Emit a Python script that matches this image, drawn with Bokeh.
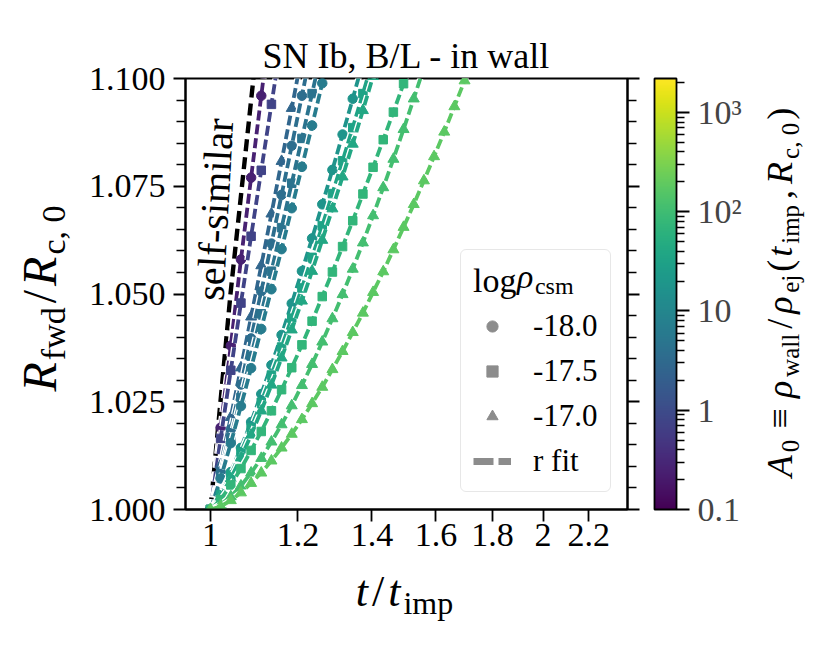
import math
from bokeh.plotting import figure
from bokeh.models import (Range1d, FixedTicker, LinearAxis, ColorBar, LogColorMapper, Label,
                          Legend, LegendItem, ColumnDataSource, NumeralTickFormatter,
                          CustomJSTickFormatter)
from bokeh.layouts import row, column
from bokeh.palettes import Viridis256
from bokeh.transform import transform
from bokeh.embed import file_html
from bokeh.resources import INLINE

SERIF = "Liberation Serif"

# ---------------- data ----------------
t_snap = [1.0000, 1.0214, 1.0433, 1.0656, 1.0884, 1.1117, 1.1355, 1.1598, 1.1846, 1.2100,
          1.2359, 1.2624, 1.2894, 1.3170, 1.3452, 1.3740, 1.4034, 1.4335, 1.4641, 1.4955,
          1.5276, 1.5603, 1.5937, 1.6278, 1.6626, 1.6982, 1.7346]

series_marker = ["circle", "square", "triangle", "circle", "square", "circle",
                 "circle", "square", "triangle", "square", "triangle", "triangle"]
series_A0 = [0.25, 0.75, 2.7, 3.7, 4.5, 6.6, 18, 33, 40, 73, 110, 180]

y_s1 = [1.000, 1.019, 1.038, 1.058, 1.077, 1.096, 1.115]
y_s2 = [1.000, 1.0165, 1.0323, 1.0479, 1.0634, 1.0787, 1.0940, 1.1090]
y_s3 = [1.000, 1.0103, 1.0214, 1.0329, 1.0447, 1.0566, 1.0686, 1.0808, 1.0931, 1.1055]
y_s4 = [1.000, 1.0088, 1.0186, 1.0290, 1.0397, 1.0506, 1.0617, 1.0730, 1.0844, 1.0960, 1.1077]
y_s5 = [1.000, 1.0078, 1.0167, 1.0260, 1.0356, 1.0454, 1.0553, 1.0654, 1.0757, 1.0861, 1.0965,
        1.1071]
y_s6 = [1.000, 1.0072, 1.0154, 1.0240, 1.0328, 1.0419, 1.0511, 1.0604, 1.0699, 1.0795, 1.0891,
        1.0989, 1.1087]
y_s7 = [1.000, 1.0037, 1.0087, 1.0143, 1.0203, 1.0268, 1.0335, 1.0405, 1.0478, 1.0553, 1.0629,
        1.0708, 1.0788, 1.0870, 1.0953, 1.1038]
y_s8 = [1.000, 1.0034, 1.0080, 1.0133, 1.0189, 1.0249, 1.0312, 1.0377, 1.0444, 1.0514, 1.0585,
        1.0658, 1.0733, 1.0809, 1.0886, 1.0965, 1.1045]
y_s9 = [1.000, 1.0030, 1.0072, 1.0120, 1.0173, 1.0229, 1.0289, 1.0352, 1.0417, 1.0484, 1.0553,
        1.0625, 1.0698, 1.0772, 1.0848, 1.0926, 1.1005]
y_s10 = [1.000, 1.0023, 1.0057, 1.0095, 1.0137, 1.0181, 1.0229, 1.0278, 1.0329, 1.0382, 1.0437,
         1.0494, 1.0551, 1.0610, 1.0670, 1.0732, 1.0794, 1.0858, 1.0922, 1.0988, 1.1054]
y_s11 = [1.000, 1.0011, 1.0030, 1.0055, 1.0085, 1.0119, 1.0157, 1.0197, 1.0241, 1.0288, 1.0337,
         1.0389, 1.0443, 1.0499, 1.0558, 1.0619, 1.0682, 1.0747, 1.0813, 1.0882, 1.0953, 1.1025]
y_s12 = [1.000, 1.0007, 1.0021, 1.0039, 1.0061, 1.0085, 1.0113, 1.0143, 1.0175, 1.0209, 1.0246,
         1.0284, 1.0325, 1.0367, 1.0411, 1.0456, 1.0504, 1.0552, 1.0603, 1.0655, 1.0708, 1.0763,
         1.0819, 1.0876, 1.0935, 1.0995, 1.1056]
series_y = [y_s1, y_s2, y_s3, y_s4, y_s5, y_s6, y_s7, y_s8, y_s9, y_s10, y_s11, y_s12]

selfsim_t = [1.0, 1.0426, 1.0937, 1.1050]
selfsim_y = [1.0, 1.050, 1.100, 1.111]

x_ticks = [1.0, 1.2, 1.4, 1.6, 1.8, 2.0, 2.2]
y_ticks = [1.000, 1.025, 1.050, 1.075, 1.100]
cbar_ticks = [0.1, 1, 10, 100, 1000]
legend_labels = ["-18.0", "-17.5", "-17.0"]
legend_markers = ["circle", "square", "triangle"]

# ---------------- geometry ----------------
TOP, BOT = 78, 58          # borders above / below the frame in the top row
FW, FH = 442, 431          # plot frame
H1 = TOP + FH + BOT        # height of the top row (567)
LW, PW, CW = 75, 680, 59   # widths: y-label strip, main plot, colour-bar label strip
XH = 640 - H1              # height of the x-label strip
BASE = 0.38                # compensation of bokeh's alphabetic baseline (fraction of size)

# ---------------- main figure ----------------
p = figure(width=PW, height=H1, x_axis_type="log",
           x_range=Range1d(0.9493, 2.385), y_range=Range1d(1.0, 1.1),
           output_backend="svg", toolbar_location=None,
           min_border_left=110, min_border_right=PW - 110 - FW,
           min_border_top=TOP, min_border_bottom=BOT)
p.background_fill_color = "white"
p.border_fill_color = "white"
p.outline_line_color = "black"
p.outline_line_width = 2
p.xgrid.visible = False
p.ygrid.visible = False
p.title.text = "SN Ib, B/L - in wall"
p.title.align = "center"
p.title.text_font = SERIF
p.title.text_font_size = "36px"
p.title.text_font_style = "normal"
p.title.text_color = "black"
p.title.standoff = 6

y_minor = [round(1.0 + 0.005 * i, 3) for i in range(21)]
y_minor = [v for v in y_minor if all(abs(v - m) > 1e-9 for m in y_ticks)]


def style_axis(ax):
    ax.axis_line_color = "black"
    ax.axis_line_width = 2
    ax.major_tick_in = 0
    ax.major_tick_out = 12
    ax.minor_tick_in = 0
    ax.minor_tick_out = 9
    ax.major_tick_line_width = 1.8
    ax.minor_tick_line_width = 1.6
    ax.major_tick_line_color = "black"
    ax.minor_tick_line_color = "black"
    ax.major_label_text_font = SERIF
    ax.major_label_text_font_size = "34px"
    ax.major_label_text_color = "black"


xa = p.xaxis[0]
style_axis(xa)
xa.ticker = FixedTicker(ticks=x_ticks)
xa.formatter = CustomJSTickFormatter(code="return String(Math.round(tick*10)/10);")
xa.major_label_standoff = 2

ya = p.yaxis[0]
style_axis(ya)
ya.ticker = FixedTicker(ticks=y_ticks, minor_ticks=y_minor)
ya.formatter = NumeralTickFormatter(format="0.000")
ya.major_label_standoff = 8

ry = LinearAxis(ticker=FixedTicker(ticks=y_ticks, minor_ticks=y_minor))
style_axis(ry)
ry.major_label_text_color = None
ry.major_label_text_font_size = "1px"
p.add_layout(ry, "right")

mapper = LogColorMapper(palette=Viridis256, low=0.1, high=2200)

# self-similar line
p.line(selfsim_t, selfsim_y, line_color="black", line_width=4.4, line_dash="12 6")

msize = {"circle": 9.5, "square": 8.5, "triangle": 11}
for mk, a0, ys in zip(series_marker, series_A0, series_y):
    n = len(ys)
    lsrc = ColumnDataSource(dict(xs=[t_snap[:n]], ys=[ys], A=[a0]))
    p.multi_line("xs", "ys", source=lsrc, line_color="white", line_width=6.5, line_dash="10 4")
    p.multi_line("xs", "ys", source=lsrc, line_color=transform("A", mapper),
                 line_width=3.8, line_dash="10 4")
    src = ColumnDataSource(dict(t=t_snap[:n], y=ys, A=[a0] * n))
    p.scatter("t", "y", source=src, marker=mk, size=msize[mk],
              color=transform("A", mapper))

# self-similar text (data coordinates, inside the frame)
p.add_layout(Label(x=0.999, y=1.0485, text="self-similar", angle=1.517,
                   text_font=SERIF, text_font_size="40px", text_color="black",
                   text_align="left", text_baseline="alphabetic"))

# ---------------- legend ----------------
GRAY = "#8c8c8c"
items = []
for lab, mk in zip(legend_labels, legend_markers):
    # proxy renderers for the legend, their point lies outside the visible range
    r = p.scatter(x=[0.5], y=[0.9], marker=mk, color=GRAY, size=11)
    items.append(LegendItem(label=lab, renderers=[r]))
rl = p.line(x=[0.5, 0.6], y=[0.9, 0.9], line_color=GRAY, line_width=7, line_dash="20 5")
items.append(LegendItem(label="r fit", renderers=[rl]))
legend = Legend(items=items, location=(275, 17), title="log",
                title_text_font=SERIF, title_text_font_size="34px",
                title_text_font_style="normal", title_text_color="black", title_standoff=8,
                label_text_font=SERIF, label_text_font_size="31px", label_text_color="black",
                glyph_width=38, glyph_height=28, label_standoff=22, spacing=9,
                padding=12, margin=0, border_line_color="#d0d0d0", border_line_width=1.5,
                background_fill_color="white", background_fill_alpha=0.0)
try:
    legend.border_radius = 6
except Exception:
    pass
p.add_layout(legend)

# ---------------- colour bar ----------------
cbar_minor = [d * m for d in (0.1, 1, 10, 100, 1000) for m in range(2, 10) if d * m <= 2200]
cb = ColorBar(color_mapper=mapper, location=(469, 0), orientation="vertical",
              width=22, height=FH, padding=0, margin=0,
              ticker=FixedTicker(ticks=cbar_ticks, minor_ticks=cbar_minor),
              formatter=CustomJSTickFormatter(code="""
                const m = {"0.1": "0.1", "1": "1", "10": "10", "100": "10\u00b2", "1000": "10\u00b3"};
                const k = String(Number(tick.toPrecision(6)));
                return (k in m) ? m[k] : k;"""),
              major_label_text_font=SERIF, major_label_text_font_size="34px",
              major_tick_in=0, major_tick_out=13, minor_tick_in=0, minor_tick_out=8,
              major_tick_line_color="black", minor_tick_line_color="black",
              major_tick_line_width=1.8, minor_tick_line_width=1.5,
              bar_line_color="black", bar_line_width=1.8, label_standoff=8,
              background_fill_alpha=0, border_line_color=None)
p.add_layout(cb)

# ---------------- composed texts ----------------
W_ROMAN = {' ': .25, ',': .25, '.': .25, '/': .278, '(': .333, ')': .333, '-': .333,
           'a': .444, 'c': .444, 'd': .5, 'e': .444, 'f': .333, 'g': .5, 'i': .278, 'j': .278,
           'l': .278, 'm': .778, 'n': .5, 'o': .5, 'p': .5, 's': .389, 'w': .722, '\u2261': .549}
W_ITAL = {'A': .611, 'R': .611, 't': .278, 'r': .389, '\u03c1': .5}


def tw(s, size, it):
    tbl = W_ITAL if it else W_ROMAN
    return sum(tbl.get(c, 0.5) for c in s) * size


def put(fig, x, y, t, s, it, ang, units="data"):
    fig.add_layout(Label(x=x, y=y, x_units=units, y_units=units, text=t, angle=ang,
                         text_font=SERIF, text_font_style="italic" if it else "normal",
                         text_font_size=f"{s}px", text_color="black",
                         text_align="left", text_baseline="alphabetic"))


def compose(fig, pieces, cx, cy, vertical, gap, units="data", start=None):
    """cx, cy: baseline position (x for vertical text) and centre along the text."""
    widths = [tw(t, s, it) + pad for (t, s, it, d, pad) in pieces]
    total = sum(widths) + gap * (len(pieces) - 1)
    pos = -total / 2 if start is None else start
    for (t, s, it, d, pad), w in zip(pieces, widths):
        off = pad / 2 if pad else 0
        if vertical:
            put(fig, cx + d - BASE * s, cy + pos + off, t, s, it, math.pi / 2, units)
        else:
            put(fig, cx + pos + off, cy - d + BASE * s, t, s, it, 0, units)
        pos += w + gap


def helper(w, h, left=0, right=0, top=0, bottom=0):
    f = figure(width=w, height=h, x_range=Range1d(0, w - left - right),
               y_range=Range1d(0, h - top - bottom), title=None,
               x_axis_location=None, y_axis_location=None, toolbar_location=None,
               output_backend="svg", min_border_left=left, min_border_right=right,
               min_border_top=top, min_border_bottom=bottom)
    f.outline_line_color = None
    f.background_fill_color = "white"
    f.border_fill_color = "white"
    f.xgrid.visible = False
    f.ygrid.visible = False
    return f


# y label strip: data x = page x, data y = 509 - page y
ylab = helper(LW, H1, top=TOP, bottom=BOT)
compose(ylab, [("R", 48, True, 0, 0), ("fwd", 34, False, 9, 0), ("/", 48, False, 0, 4),
               ("R", 48, True, 0, 0), ("c, 0", 34, False, 9, 0)], 57, 509 - 298, True, 2)

# colour-bar label strip: data x = page x - 755
cbt = helper(CW, H1, top=TOP, bottom=BOT)
compose(cbt, [("A", 36, True, 0, 0), ("0", 25, False, 6, 0), ("\u2261", 36, False, 0, 16),
              ("\u03c1", 36, True, 0, 0), ("wall", 25, False, 6, 0), ("/", 36, False, 0, 4),
              ("\u03c1", 36, True, 0, 0), ("ej", 25, False, 6, 0), ("(", 36, False, 0, 0),
              ("t", 36, True, 0, 0), ("imp", 25, False, 6, 0), (",", 36, False, 0, 6),
              ("R", 36, True, 0, 0), ("c, 0", 25, False, 6, 0), (")", 36, False, 0, 0)],
        793 - (LW + PW), 509 - 292, True, 3)

# x label strip: data x = page x - 185, data y = 640 - page y
xlab = helper(LW + PW + CW, XH, left=185, right=LW + PW + CW - 185 - FW)
compose(xlab, [("t", 44, True, 0, 0), ("/", 44, False, 0, 2), ("t", 44, True, 0, 0),
               ("imp", 32, False, 7, 0)], 404 - 185, 640 - 608, False, 3)

# legend title: italic rho and subscript after the legend's own "log"
compose(p, [("\u03c1", 34, True, 0, 0), ("csm", 24, False, 6, 0)],
        0, 509 - 289, False, 1, units="screen", start=460 + 12 + tw("log", 34, False) + 1 - 185)

layout = column(row(ylab, p, cbt, spacing=0), xlab, spacing=0)
open("out.html", "w", encoding="utf-8").write(file_html(layout, INLINE))
